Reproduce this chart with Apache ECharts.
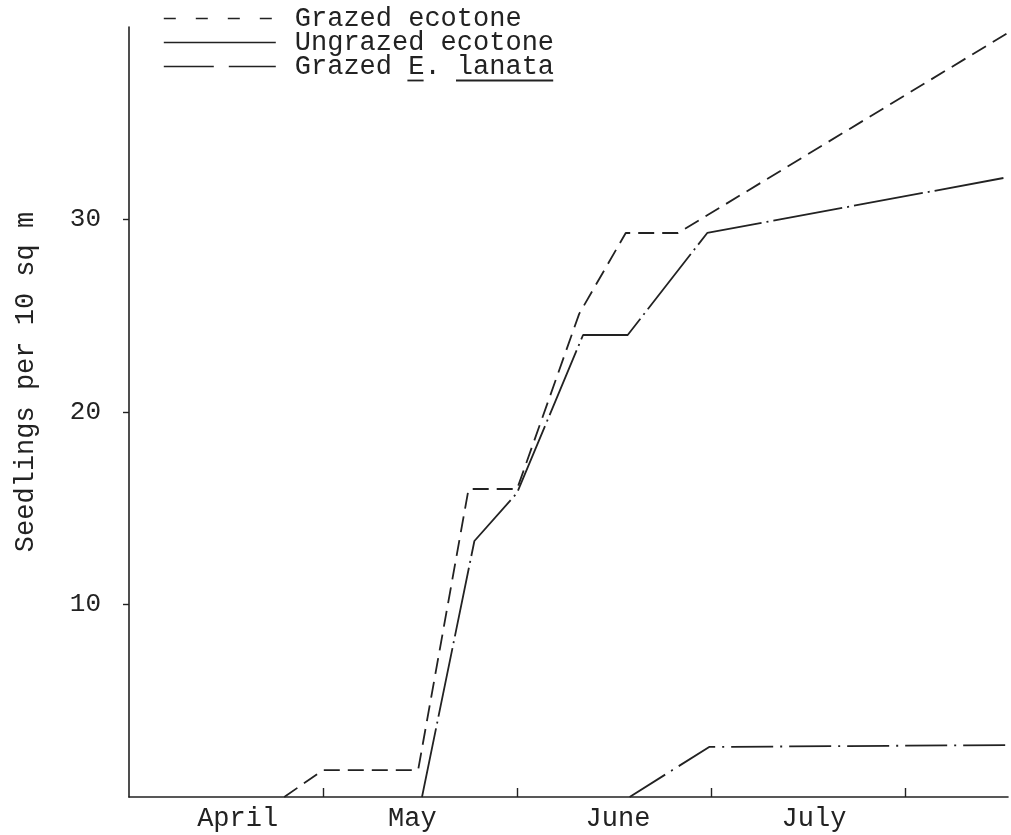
<!DOCTYPE html>
<html>
<head>
<meta charset="utf-8">
<script src="https://cdn.jsdelivr.net/npm/echarts@6/dist/echarts.min.js"></script>
<style>
html,body{margin:0;padding:0;background:#fff;}
#chart{width:1011px;height:835px;}
</style>
</head>
<body>
<div id="chart"></div>
<script>
// ---- data ----
const months = ['April', 'May', 'June', 'July'];
const monthLabelPos = [0.56, 1.46, 2.52, 3.53];   // month units along the x axis
const monthTickPos = [1, 2, 3, 4];
const yTickValues = [10, 20, 30];

const seriesNames = ['Grazed ecotone', 'Ungrazed ecotone', 'Grazed E. lanata'];

const grazedEcotoneX = [0.80, 1.00, 1.49, 1.75, 2.00, 2.32, 2.56, 2.83, 4.53];
const grazedEcotoneY = [0, 1.4, 1.4, 16, 16, 25.1, 29.3, 29.3, 39.7];

const ungrazedEcotoneX = [1.51, 1.78, 2.00, 2.34, 2.57, 2.98, 4.53];
const ungrazedEcotoneY = [0, 13.3, 15.8, 24, 24, 29.3, 32.2];

const grazedLanataX = [2.58, 2.99, 4.53];
const grazedLanataY = [0, 2.6, 2.7];

// ---- build chart ----
const zip = (xs, ys) => xs.map((x, i) => [x, ys[i]]);
const FONT = '"Liberation Mono", "DejaVu Sans Mono", monospace';
const INK = '#222';
const LEGEND_TOP = 5;
const LEGEND_ITEM_H = 27;
const LEGEND_GAP = -3;

const chart = echarts.init(document.getElementById('chart'), null, { renderer: 'canvas' });

const noDot = { opacity: 0, color: 'rgba(0,0,0,0)', borderWidth: 0 };

const option = {
  backgroundColor: '#fff',
  animation: false,
  grid: { left: 129, right: 3, top: 27, bottom: 38, containLabel: false, outerBoundsMode: 'none' },
  legend: {
    orient: 'vertical',
    left: 163,
    top: LEGEND_TOP,
    padding: 0,
    itemGap: LEGEND_GAP,
    itemWidth: 112,
    itemHeight: 12,
    selectedMode: false,
    itemStyle: noDot,
    textStyle: { fontFamily: FONT, fontSize: 27, color: INK, padding: [0, 0, 0, 14] },
    data: [
      { name: seriesNames[0], itemStyle: noDot, lineStyle: { type: [12, 20], width: 1.6, color: INK } },
      { name: seriesNames[1], itemStyle: noDot, lineStyle: { type: 'solid', width: 1.6, color: INK } },
      { name: seriesNames[2], itemStyle: noDot, lineStyle: { type: [50, 15], width: 1.6, color: INK } }
    ]
  },
  xAxis: {
    type: 'value',
    min: 0,
    max: 4.53,
    splitLine: { show: false },
    axisLine: { show: true, onZero: false, lineStyle: { color: INK, width: 1.6 } },
    axisTick: { show: true, inside: true, length: 9, customValues: monthTickPos, lineStyle: { color: INK, width: 1.4 } },
    axisLabel: {
      show: true,
      customValues: monthLabelPos,
      margin: 8,
      fontFamily: FONT,
      fontSize: 27,
      color: INK,
      formatter: function (v) {
        for (let i = 0; i < monthLabelPos.length; i++) {
          if (Math.abs(v - monthLabelPos[i]) < 1e-6) return months[i];
        }
        return '';
      }
    }
  },
  yAxis: {
    type: 'value',
    min: 0,
    max: 40,
    interval: 10,
    splitLine: { show: false },
    axisLine: { show: true, lineStyle: { color: INK, width: 1.6 } },
    axisTick: { show: true, inside: false, length: 6, customValues: yTickValues, lineStyle: { color: INK, width: 1.4 } },
    axisLabel: {
      show: true,
      customValues: yTickValues,
      margin: 28,
      fontFamily: FONT,
      fontSize: 26,
      color: INK
    }
  },
  series: [
    {
      name: seriesNames[0],
      type: 'line',
      symbol: 'none',
      data: zip(grazedEcotoneX, grazedEcotoneY),
      lineStyle: { color: INK, width: 1.8, type: [16, 8] },
      itemStyle: { color: INK }
    },
    {
      name: seriesNames[1],
      type: 'line',
      symbol: 'none',
      data: zip(ungrazedEcotoneX, ungrazedEcotoneY),
      lineStyle: { color: INK, width: 1.8, type: [70, 5, 2, 5] },
      itemStyle: { color: INK }
    },
    {
      name: seriesNames[2],
      type: 'line',
      symbol: 'none',
      data: zip(grazedLanataX, grazedLanataY),
      lineStyle: { color: INK, width: 1.8, type: [42, 7, 2, 7] },
      itemStyle: { color: INK }
    }
  ]
};

// rotated y-axis title and typewriter underscoring of "E." and "lanata"
const charW = 27 * 0.6;
const textStart = 163 + 112 + 5 + 14;
const underlineY = LEGEND_TOP + 2 * (LEGEND_ITEM_H + LEGEND_GAP) + LEGEND_ITEM_H / 2 + 14;
option.graphic = [
  {
    type: 'text',
    x: 26,
    y: 382,
    rotation: Math.PI / 2,
    style: {
      text: 'Seedlings per 10 sq m',
      font: '27px ' + FONT,
      fill: INK,
      textAlign: 'center',
      textVerticalAlign: 'middle',
      align: 'center',
      verticalAlign: 'middle'
    }
  },
  { type: 'line', shape: { x1: textStart + 7 * charW, y1: underlineY, x2: textStart + 8 * charW, y2: underlineY }, style: { stroke: INK, lineWidth: 1.8 } },
  { type: 'line', shape: { x1: textStart + 10 * charW, y1: underlineY, x2: textStart + 16 * charW, y2: underlineY }, style: { stroke: INK, lineWidth: 1.8 } }
];

chart.setOption(option);
</script>
</body>
</html>
